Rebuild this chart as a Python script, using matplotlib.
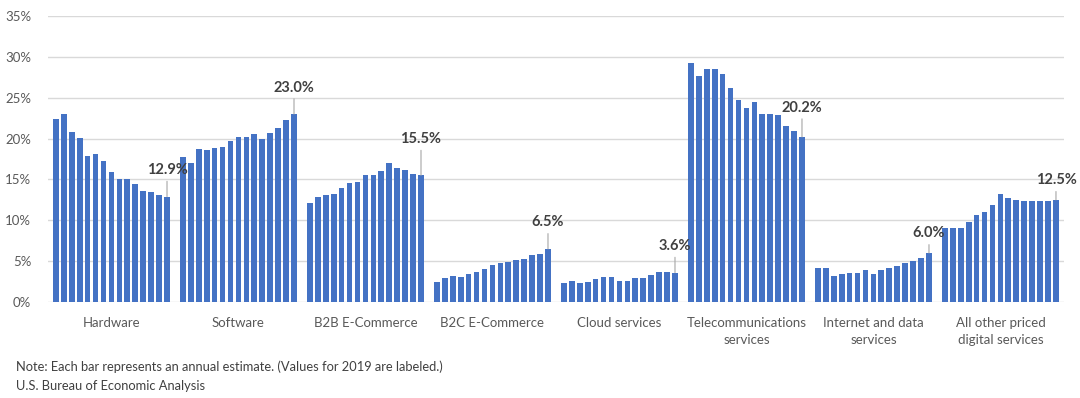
import numpy as np
import matplotlib
matplotlib.use("Agg")
import matplotlib.pyplot as plt

plt.rcParams['font.family'] = ['Lato', 'DejaVu Sans']

categories = ["Hardware", "Software", "B2B E-Commerce", "B2C E-Commerce",
              "Cloud services", "Telecommunications\nservices",
              "Internet and data\nservices", "All other priced\ndigital services"]

# annual estimates 2005-2019, percent
hardware = [22.4, 23.0, 20.8, 20.1, 17.9, 18.1, 17.2, 15.9, 15.0, 15.0, 14.4, 13.6, 13.5, 13.1, 12.9]
software = [17.7, 17.0, 18.7, 18.6, 18.9, 19.0, 19.7, 20.2, 20.2, 20.5, 20.0, 20.7, 21.3, 22.3, 23.0]
b2b = [12.1, 12.8, 13.1, 13.2, 14.0, 14.6, 14.7, 15.5, 15.5, 16.0, 17.0, 16.4, 16.2, 15.7, 15.5]
b2c = [2.4, 2.9, 3.2, 3.1, 3.4, 3.7, 4.0, 4.5, 4.8, 4.9, 5.1, 5.3, 5.7, 5.9, 6.5]
cloud = [2.3, 2.6, 2.3, 2.5, 2.8, 3.1, 3.1, 2.6, 2.6, 2.9, 2.9, 3.3, 3.7, 3.7, 3.6]
telecom = [29.2, 27.7, 28.5, 28.5, 27.9, 26.2, 24.7, 23.8, 24.5, 23.0, 23.0, 22.9, 21.5, 20.9, 20.2]
internet = [4.2, 4.2, 3.2, 3.4, 3.5, 3.6, 3.9, 3.4, 3.9, 4.2, 4.4, 4.8, 5.0, 5.4, 6.0]
other = [9.0, 9.1, 9.1, 9.8, 10.6, 11.0, 11.9, 13.2, 12.7, 12.5, 12.3, 12.3, 12.3, 12.4, 12.5]

series = [hardware, software, b2b, b2c, cloud, telecom, internet, other]
label_offsets = [14, 14, 21, 14, 14, 16, 9, 9]  # points above bar top

blue = '#4472C4'
grey_txt = '#595959'

fig = plt.figure(figsize=(10.8, 3.98), dpi=100)
ax = fig.add_axes([0.0444, 0.2412, 0.9407, 0.7186])

slot = 16
for g, vals in enumerate(series):
    x = g * slot + np.arange(len(vals))
    ax.bar(x, vals, width=0.72, color=blue, zorder=3)
    xl, yl = x[-1], vals[-1]
    ax.annotate(f"{yl:.1f}%", xy=(xl, yl), xytext=(0, label_offsets[g]),
                textcoords='offset points', ha='center', va='bottom',
                fontsize=10.5, fontweight='bold', color='#404040', zorder=4,
                arrowprops=dict(arrowstyle='-', color='#A6A6A6', lw=0.8,
                                shrinkA=1, shrinkB=0))

ax.set_xlim(-1, slot * len(series) - 1)
ax.set_ylim(0, 35)
ax.set_yticks(np.arange(0, 36, 5))
ax.set_yticklabels([f"{v}%" for v in range(0, 36, 5)])
ax.set_xticks([g * slot + 7 for g in range(len(series))])
ax.set_xticklabels(categories)
ax.tick_params(axis='both', length=0, labelsize=9.5, colors=grey_txt)
ax.tick_params(axis='y', pad=12)
ax.tick_params(axis='x', pad=11)
for t in ax.get_xticklabels():
    t.set_linespacing(1.45)
ax.grid(axis='y', color='#D9D9D9', lw=1, zorder=0)
for s in ax.spines.values():
    s.set_visible(False)

fig.text(0.0148, 0.078, "Note: Each bar represents an annual estimate. (Values for 2019 are labeled.)",
         fontsize=9.3, color='#404040', va='center')
fig.text(0.0148, 0.030, "U.S. Bureau of Economic Analysis",
         fontsize=9.3, color='#404040', va='center')

fig.savefig("out.png", dpi=100)
